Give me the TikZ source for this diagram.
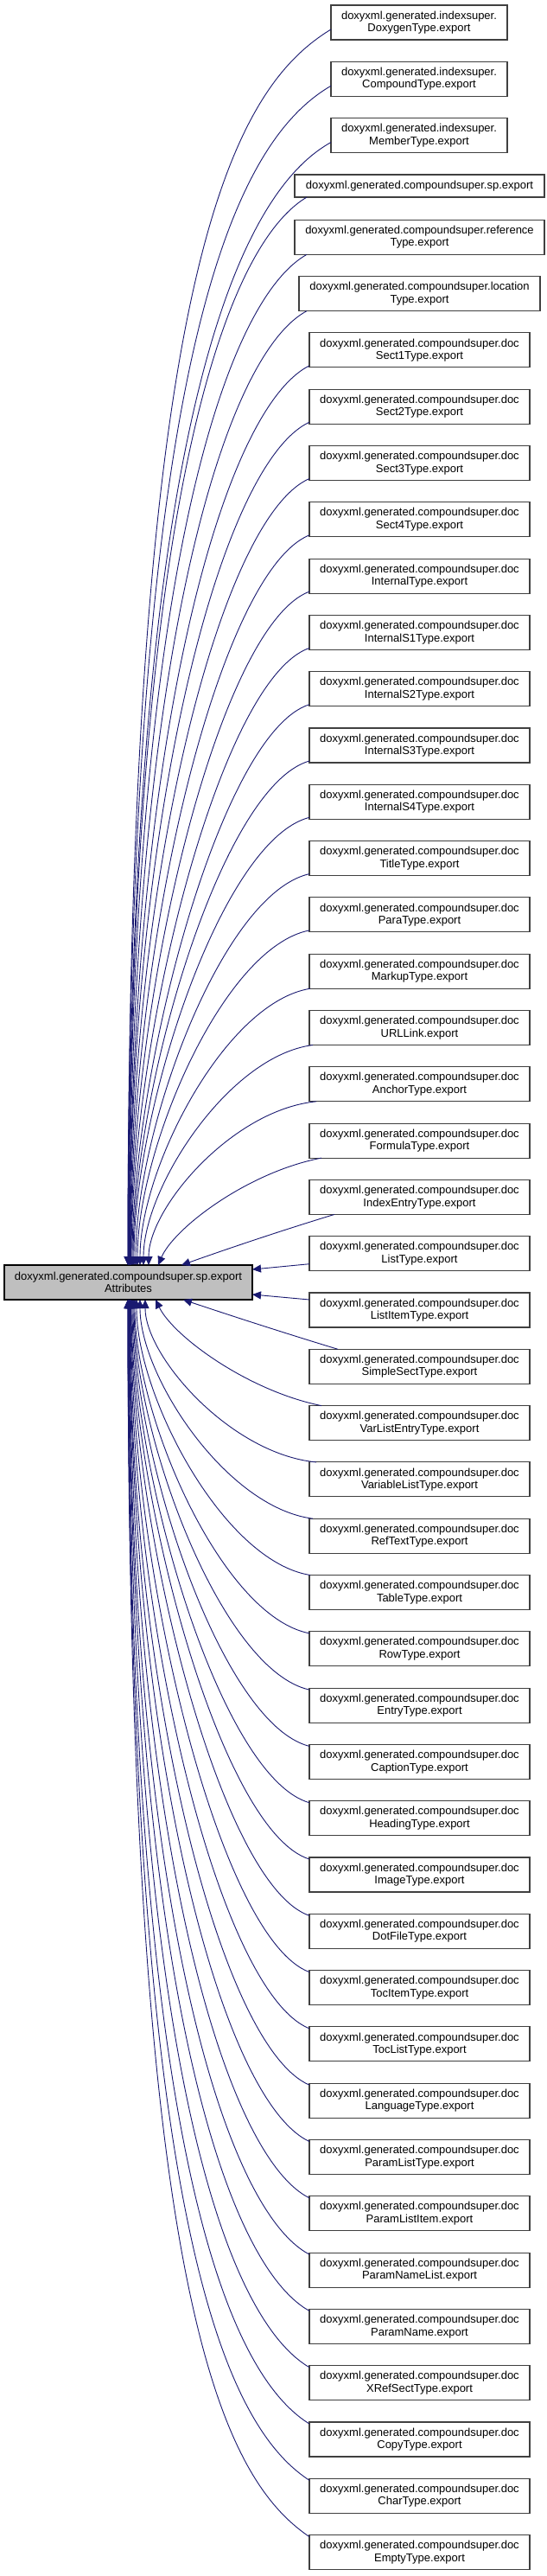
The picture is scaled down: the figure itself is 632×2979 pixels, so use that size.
\documentclass[tikz,border=0pt]{standalone}
\usepackage{fontspec}
\setmainfont{Liberation Sans}
\usetikzlibrary{arrows.meta}
\definecolor{edgeblue}{RGB}{25,25,112}
\definecolor{boxborder}{RGB}{64,64,64}
\definecolor{mainfill}{RGB}{191,191,191}
\begin{document}
\begin{tikzpicture}[x=1pt,y=-1pt,
  box/.style={draw=boxborder, line width=1.1pt, fill=white, inner sep=0pt, outer sep=0pt,
    align=center, font=\fontsize{13}{14.5}\selectfont, minimum height=40pt},
  edge/.style={draw=edgeblue, line width=0.9pt, -{Triangle[length=10pt,width=9pt]}},
]
\useasboundingbox (0,0) rectangle (632,2979);
\node[box, fill=mainfill, draw=black, minimum width=287pt] (main) at (148.5,1483)
  {doxyxml.generated.compoundsuper.sp.export\\Attributes};
\node[box, minimum width=204pt] (b0) at (485,26) {doxyxml.generated.indexsuper.\\DoxygenType.export};
\node[box, minimum width=204pt] (b1) at (485,91.3) {doxyxml.generated.indexsuper.\\CompoundType.export};
\node[box, minimum width=204pt] (b2) at (485,156.6) {doxyxml.generated.indexsuper.\\MemberType.export};
\node[box, minimum width=289pt, minimum height=26pt] (b3) at (485.5,215) {doxyxml.generated.compoundsuper.sp.export};
\node[box, minimum width=289pt] (b4) at (485.5,274.3) {doxyxml.generated.compoundsuper.reference\\Type.export};
\node[box, minimum width=279pt] (b5) at (485.5,339.6) {doxyxml.generated.compoundsuper.location\\Type.export};
\foreach \nm [count=\i from 6] in {Sect1Type,Sect2Type,Sect3Type,Sect4Type,InternalType,InternalS1Type,
  InternalS2Type,InternalS3Type,InternalS4Type,TitleType,ParaType,MarkupType,URLLink,AnchorType,
  FormulaType,IndexEntryType,ListType,ListItemType,SimpleSectType,VarListEntryType,VariableListType,
  RefTextType,TableType,RowType,EntryType,CaptionType,HeadingType,ImageType,DotFileType,TocItemType,
  TocListType,LanguageType,ParamListType,ParamListItem,ParamNameList,ParamName,XRefSectType,
  CopyType,CharType,EmptyType}{
  \pgfmathsetmacro\cy{274.3+65.3*(\i-4)}
  \node[box, minimum width=255pt] (b\i) at (485.5,\cy) {doxyxml.generated.compoundsuper.doc\\\nm.export};
}
% straight edges to the right side of the main box
\draw[edge] ([yshift=-12pt]b22.west) -- ([yshift=15pt]main.east);
\draw[edge] ([yshift=12pt]b23.west) -- ([yshift=-14pt]main.east);
% edges from boxes above
\foreach \k in {0,...,21}{
  \pgfmathtruncatemacro\d{21-\k}
  \pgfmathtruncatemacro\dd{min(\d,4)}
  \pgfmathsetmacro\xe{{210,183,172,166,162,159,157,155,154,153,152,151.5,151,150.5,150,150,149.5,149,149,148.5,148,148}[\d]}
  \pgfmathsetmacro\near{{29,14,8,4,1}[\dd]}
  \pgfmathsetmacro\xL{\k<3 ? 383 : (\k<5 ? 341 : (\k==5 ? 346 : 358))}
  \pgfmathsetmacro\ox{\k<3 ? 0 : (\k<5 ? 14 : (\k==5 ? 9 : (\d>=5 ? 0 : \near)))}
  \pgfmathsetmacro\oy{\k<3 ? 12 : (\k<6 ? 0 : (\d>=5 ? 2 : 0))}
  \pgfmathsetmacro\yb{\k<3 ? 46+65.3*\k : (\k==3 ? 228 : 294.3+65.3*(\k-4))}
  \pgfmathsetmacro\Sx{\xL+\ox}
  \pgfmathsetmacro\Sy{\yb-\oy}
  \pgfmathsetmacro\dx{\Sx-\xe}
  \pgfmathsetmacro\dy{1463-\Sy}
  \pgfmathsetmacro\w{min(1,max(0,(\dy/\dx-0.3)/0.5))}
  \pgfmathsetmacro\al{max(0.35,min(0.8,0.8-0.0006*(1429-\dy)))}
  \pgfmathsetmacro\cAx{\xe+(1-\w)/3*\dx}
  \pgfmathsetmacro\cAy{1463-(1/3+(\al-1/3)*\w)*\dy}
  \pgfmathsetmacro\cBx{\Sx-(1/3+0.1667*\w)*\dx}
  \pgfmathsetmacro\cBy{\Sy+(1/3-0.2833*\w)*\dy}
  \pgfmathsetmacro\xs{\xe-5}
  \draw[edge] ([xshift=\ox pt, yshift=\oy pt]b\k.south west) .. controls (\cBx,\cBy) and (\cAx,\cAy) .. ([xshift=\xs pt]main.north west);
}
% edges from boxes below
\foreach \k in {24,...,45}{
  \pgfmathtruncatemacro\d{\k-24}
  \pgfmathtruncatemacro\dd{min(\d,4)}
  \pgfmathsetmacro\xe{{212,180,168,162,158,156,155,154,153,152,151.5,151,150.5,150,150,149.5,149,149,148.5,148,148,148}[\d]}
  \pgfmathsetmacro\near{{33,14,8,4,1}[\dd]}
  \pgfmathsetmacro\ox{\d>=5 ? 0 : \near}
  \pgfmathsetmacro\oy{\d>=5 ? 2 : 0}
  \pgfmathsetmacro\yt{254.3+65.3*(\k-4)}
  \pgfmathsetmacro\Sx{358+\ox}
  \pgfmathsetmacro\Sy{\yt+\oy}
  \pgfmathsetmacro\dx{\Sx-\xe}
  \pgfmathsetmacro\dy{\Sy-1503}
  \pgfmathsetmacro\w{min(1,max(0,(\dy/\dx-0.3)/0.5))}
  \pgfmathsetmacro\al{max(0.35,min(0.8,0.8-0.0006*(1429-\dy)))}
  \pgfmathsetmacro\cAx{\xe+(1-\w)/3*\dx}
  \pgfmathsetmacro\cAy{1503+(1/3+(\al-1/3)*\w)*\dy}
  \pgfmathsetmacro\cBx{\Sx-(1/3+0.1667*\w)*\dx}
  \pgfmathsetmacro\cBy{\Sy-(1/3-0.2833*\w)*\dy}
  \pgfmathsetmacro\xs{\xe-5}
  \draw[edge] ([xshift=\ox pt, yshift=-\oy pt]b\k.north west) .. controls (\cBx,\cBy) and (\cAx,\cAy) .. ([xshift=\xs pt]main.south west);
}
\end{tikzpicture}
\end{document}
